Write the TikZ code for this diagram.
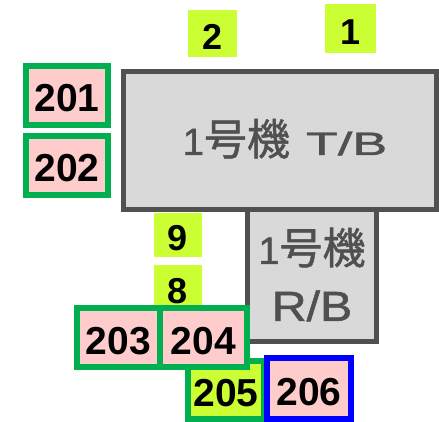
\documentclass[tikz,border=0pt]{standalone}
\usepackage{fontspec}
\setmainfont{Liberation Sans}
\newfontfamily\cjk[FakeBold=1.2]{Noto Sans CJK JP}
\newfontfamily\lat[FakeBold=1.2]{Liberation Sans}
\usepackage{graphicx}
\definecolor{lgreen}{HTML}{00B050}
\definecolor{lpink}{HTML}{FFCCCC}
\definecolor{llime}{HTML}{CCFF33}
\definecolor{lblue}{HTML}{0000FF}
\definecolor{dgray}{HTML}{505050}
\definecolor{lgray}{HTML}{D9D9D9}
\tikzset{
  numbox/.style={draw=lgreen, line width=6pt, fill=lpink, inner sep=0pt,
    font=\bfseries\fontsize{39}{40}\selectfont, text height=33pt, text depth=0pt},
  digbox/.style={fill=llime, inner sep=0pt,
    font=\bfseries\fontsize{36}{37}\selectfont, text height=31.5pt, text depth=0pt},
  bldg/.style={draw=dgray, line width=5pt, fill=lgray, inner sep=0pt, text=dgray},
}
\begin{document}
\begin{tikzpicture}[x=1pt,y=-1pt]
\useasboundingbox (0,0) rectangle (439,422);
% R/B building
\node[bldg, minimum width=129pt, minimum height=134pt, align=center,
  font=\fontsize{40}{57}\selectfont] (rb) at (312,274.5)
  {{\lat\fontsize{38}{57}\selectfont 1}{\cjk\fontsize{43}{57}\selectfont 号機}\\
   \scalebox{1.15}[1]{\lat\fontsize{42}{57}\selectfont R/B}};
% T/B building
\node[bldg, minimum width=313pt, minimum height=138pt, text height=31pt, text depth=2pt] (tb) at (280,140.5)
  {\hspace*{10pt}{\lat\fontsize{38}{40}\selectfont 1}{\cjk\fontsize{43}{45}\selectfont 号機}\hspace{16pt}\scalebox{1.45}[0.9]{\lat\fontsize{36}{40}\selectfont T/B}};
% lime number tags
\node[digbox, minimum width=49pt, minimum height=47pt] (n2) at (212.5,33.5) {2};
\node[digbox, minimum width=51pt, minimum height=49pt] (n1) at (350.5,28.5) {1};
\node[digbox, minimum width=48pt, minimum height=44pt] (n9) at (178,235) {9};
\node[digbox, minimum width=48pt, minimum height=45pt] (n8) at (178,287.5) {8};
% pink tags
\node[numbox, minimum width=82pt, minimum height=59pt] (n201) at (67,95.5) {201};
\node[numbox, minimum width=82pt, minimum height=59pt] (n202) at (67,165.5) {202};
\node[numbox, fill=llime, minimum width=76pt, minimum height=58pt] (n205) at (226,390) {205};
\node[numbox, draw=lblue, minimum width=84pt, minimum height=61pt] (n206) at (309,388.5) {206};
\node[numbox, minimum width=83pt, minimum height=59pt] (n203) at (118.5,337.5) {203};
\node[numbox, minimum width=87pt, minimum height=59pt] (n204) at (203.5,337.5) {204};
\end{tikzpicture}
\end{document}
